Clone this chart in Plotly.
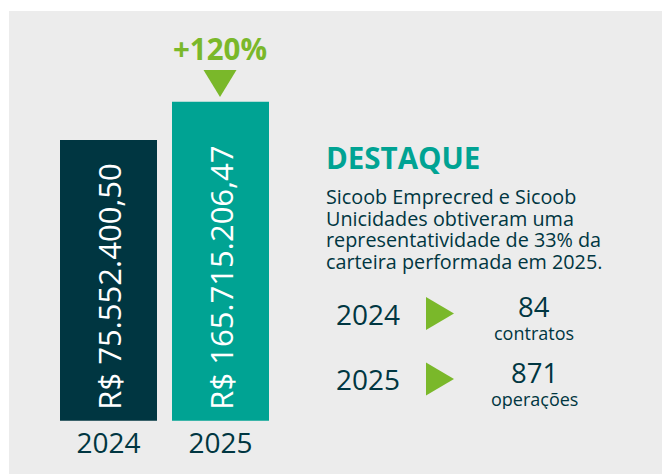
import plotly.graph_objects as go

# ---- data ----
years = ["2024", "2025"]
carteira = [75552400.50, 165715206.47]
growth_label = "+120%"
title = "DESTAQUE"
paragraph_lines = [
    "Sicoob Emprecred e Sicoob",
    "Unicidades obtiveram uma",
    "representatividade de 33% da",
    "carteira performada em 2025.",
]
row_years = ["2024", "2025"]
row_counts = [84, 871]
row_units = ["contratos", "operações"]

# ---- style ----
W, H = 662, 474
DARK = "#003641"
TEAL = "#00a393"
GREEN = "#7ab82a"
BG = "#ececec"
FONT = "Open Sans"


def brl(v):
    s = f"{v:,.2f}"
    return "R$ " + s.replace(",", "X").replace(".", ",").replace("X", ".")


def px(x):
    return x / W


def py(y):
    return 1 - y / H


fig = go.Figure()
fig.add_trace(go.Bar(
    x=years,
    y=carteira,
    marker=dict(color=[DARK, TEAL], line=dict(width=0)),
    text=["\u00a0" + brl(v) for v in carteira],
    textposition="inside",
    insidetextanchor="start",
    textangle=-90,
    textfont=dict(family=FONT, size=31, color="white"),
    hoverinfo="skip",
))

shapes = [
    dict(type="rect", xref="paper", yref="paper", x0=px(9), x1=px(662), y0=py(474), y1=py(11),
         fillcolor=BG, line=dict(width=0), layer="below"),
    # down triangle above 2025 bar
    dict(type="path", xref="paper", yref="paper",
         path=f"M {px(203.5)},{py(70)} L {px(236.5)},{py(70)} L {px(220)},{py(97)} Z",
         fillcolor=GREEN, line=dict(width=0)),
]

annotations = [
    dict(text=f"<b>{growth_label}</b>", x=px(219.5), y=py(49), xref="paper", yref="paper",
         xanchor="center", yanchor="middle", showarrow=False,
         font=dict(family=FONT, size=29.5, color=GREEN)),
    dict(text=f"<b>{title}</b>", x=px(324), y=py(157.5), xref="paper", yref="paper",
         xanchor="left", yanchor="middle", showarrow=False,
         font=dict(family=FONT, size=29.5, color=TEAL)),
]

line_y = [197, 218.7, 240.4, 262]
for txt, yy in zip(paragraph_lines, line_y):
    annotations.append(dict(text=txt, x=px(324), y=py(yy + 2.4), xref="paper", yref="paper",
                            xanchor="left", yanchor="middle", showarrow=False,
                            height=21.3, valign="bottom",
                            font=dict(family=FONT, size=19.8, color=DARK)))

row_cy = [313.5, 379]
for yr, cnt, unit, cy in zip(row_years, row_counts, row_units, row_cy):
    annotations.append(dict(text=yr, x=px(368.5), y=py(cy), xref="paper", yref="paper",
                            xanchor="center", yanchor="middle", showarrow=False,
                            font=dict(family=FONT, size=28, color=DARK)))
    annotations.append(dict(text=str(cnt), x=px(534), y=py(cy - 7.5), xref="paper", yref="paper",
                            xanchor="center", yanchor="middle", showarrow=False, height=26,
                            font=dict(family=FONT, size=27.5, color=DARK)))
    annotations.append(dict(text=unit, x=px(534), y=py(cy + 19.5), xref="paper", yref="paper",
                            xanchor="center", yanchor="middle", showarrow=False, height=20,
                            font=dict(family=FONT, size=18, color=DARK)))
    shapes.append(dict(type="path", xref="paper", yref="paper",
                       path=f"M {px(426)},{py(cy - 16.5)} L {px(454)},{py(cy)} L {px(426)},{py(cy + 16.5)} Z",
                       fillcolor=GREEN, line=dict(width=0)))

fig.update_layout(
    width=W, height=H, autosize=False,
    margin=dict(l=0, r=0, t=0, b=0),
    paper_bgcolor="white",
    plot_bgcolor="rgba(0,0,0,0)",
    showlegend=False,
    bargap=0.134,
    shapes=shapes,
    annotations=annotations,
    xaxis=dict(domain=[px(52.5), px(276.5)], type="category", showgrid=False, zeroline=False,
               showline=False, ticks="", ticklabelstandoff=3,
               tickfont=dict(family=FONT, size=28, color=DARK)),
    yaxis=dict(domain=[py(420.7), py(60)], type="log", range=[5.378, 8.5908],
               showgrid=False, zeroline=False, showline=False, showticklabels=False),
)

fig.write_html("out.html", config={"displayModeBar": False},
               post_script="document.body.style.margin='0';")
